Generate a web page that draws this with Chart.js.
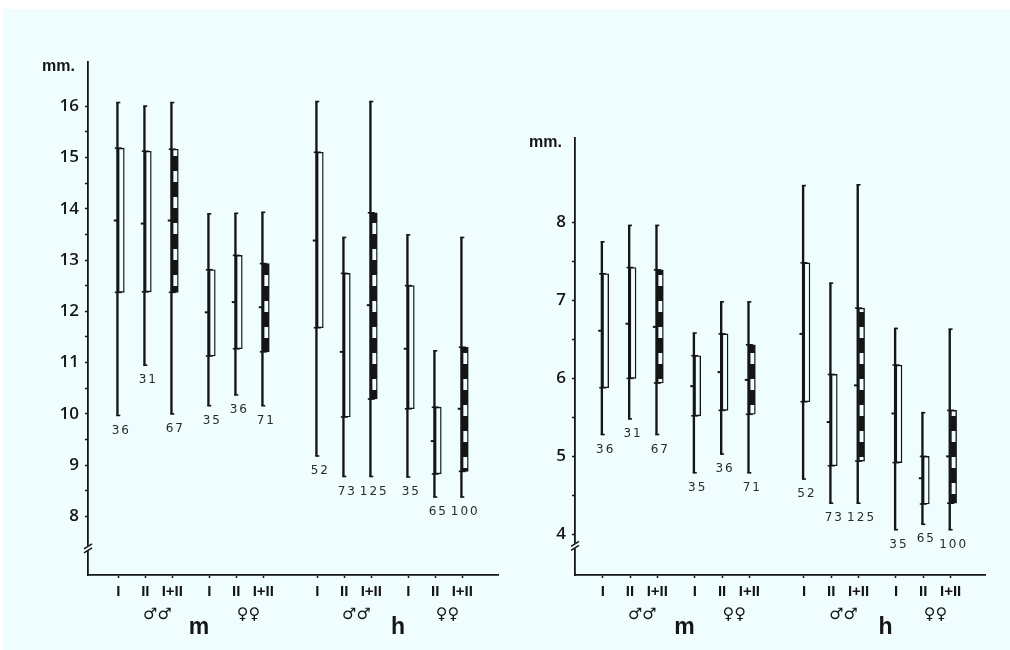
<!DOCTYPE html>
<html>
<head>
<meta charset="utf-8">
<script src="https://cdn.jsdelivr.net/npm/chart.js@4.4.0/dist/chart.umd.min.js"></script>
<style>
html, body { margin: 0; padding: 0; background: #fff; }
#page { position: absolute; left: 3px; top: 9px; width: 1007px; height: 641px; background: #effdff; }
.panel { position: absolute; top: 0; width: 505px; height: 650px; }
</style>
</head>
<body>
<div id="page"></div>
<div class="panel" style="left:0"><canvas id="left"></canvas></div>
<div class="panel" style="left:505px"><canvas id="right"></canvas></div>
<script>
// order of the 12 columns: m ♂♂ I, II, I+II | m ♀♀ I, II, I+II | h ♂♂ ... | h ♀♀ ...
var periods = ['I', 'II', 'I+II'];
var blocks = ['m', 'h'];
var sexes = ['♂♂', '♀♀'];
var counts = [36, 31, 67, 35, 36, 71, 52, 73, 125, 35, 65, 100];

var leftMin = [9.97, 10.95, 10.0, 10.16, 10.37, 10.16, 9.18, 8.78, 8.78, 8.77, 8.38, 8.38];
var leftQ1  = [12.37, 12.38, 12.37, 11.13, 11.27, 11.21, 11.68, 9.94, 10.29, 10.10, 8.83, 8.88];
var leftMed = [13.77, 13.71, 13.77, 11.98, 12.18, 12.08, 13.38, 11.21, 12.12, 11.27, 9.47, 10.10];
var leftQ3  = [15.18, 15.12, 15.16, 12.81, 13.09, 12.93, 15.10, 12.74, 13.92, 12.50, 10.13, 11.30];
var leftMax = [16.07, 16.0, 16.07, 13.90, 13.91, 13.93, 16.09, 13.44, 16.09, 13.49, 11.23, 13.44];
var leftTicks = [8, 9, 10, 11, 12, 13, 14, 15, 16];

var rightMin = [5.28, 5.48, 5.28, 4.79, 5.03, 4.79, 4.71, 4.40, 4.40, 4.06, 4.13, 4.06];
var rightQ1  = [5.88, 6.00, 5.94, 5.52, 5.59, 5.54, 5.70, 4.88, 4.94, 4.92, 4.39, 4.40];
var rightMed = [6.61, 6.70, 6.66, 5.90, 6.08, 5.98, 6.57, 5.44, 5.91, 5.55, 4.72, 5.00];
var rightQ3  = [7.34, 7.42, 7.39, 6.29, 6.57, 6.43, 7.48, 6.05, 6.90, 6.17, 5.00, 5.59];
var rightMax = [7.75, 7.96, 7.96, 6.58, 6.98, 6.98, 8.47, 7.22, 8.48, 6.64, 5.56, 6.63];
var rightTicks = [4, 5, 6, 7, 8];

var ink = '#151515';
var paper = '#effdff';

// column positions on the x scale: 3 periods per sex, gaps between sexes and between m / h
var pos = [];
(function() {
	var x = 0;
	for (var g = 0; g < 4; g++) {
		for (var p = 0; p < 3; p++) pos.push(x + p);
		x += (g % 2 === 0) ? 3.37 : 4.0;
	}
})();

function stripes() {
	var c = document.createElement('canvas');
	c.width = 4; c.height = 26;
	var g = c.getContext('2d');
	g.fillStyle = ink; g.fillRect(0, 0, 4, 26);
	g.fillStyle = paper; g.fillRect(0, 15, 4, 11);
	return g.createPattern(c, 'repeat');
}
var dashFill = stripes();

function pts(vals) {
	return vals.map(function(v, i) { return {x: pos[i], y: v}; });
}
function ranges(lo, hi) {
	return lo.map(function(v, i) { return {x: pos[i], y: [v, hi[i]]}; });
}
function halves(major) {
	var out = [];
	for (var v = major[0]; v <= major[major.length - 1]; v += 0.5) out.push({value: v});
	return out;
}

function makePanel(id, p) {
	var marks = {
		id: 'marks',
		afterDraw: function(chart) {
			var ctx = chart.ctx, xs = chart.scales.x, ys = chart.scales.y, area = chart.chartArea;
			ctx.save();
			// sample sizes under each whisker
			ctx.fillStyle = '#2a2a2a';
			ctx.font = '12px "DejaVu Sans"';
			ctx.textAlign = 'center';
			ctx.textBaseline = 'middle';
			ctx.letterSpacing = '2px';
			for (var i = 0; i < counts.length; i++) {
				ctx.fillText(String(counts[i]), xs.getPixelForValue(pos[i]) + 3, ys.getPixelForValue(p.min[i]) + 15);
			}
			ctx.letterSpacing = '0px';
			// axis unit
			ctx.fillStyle = ink;
			ctx.textAlign = 'left';
			ctx.font = 'bold 16px "Liberation Sans"';
			ctx.fillText('mm.', area.left - 46, area.top + 5);
			// sexes and m / h
			ctx.textAlign = 'center';
			ctx.font = 'bold 16px "DejaVu Sans"';
			for (var s = 0; s < 4; s++) {
				ctx.fillText(sexes[s % 2], xs.getPixelForValue(pos[s * 3 + 1] + 0.45), area.bottom + 40);
			}
			ctx.textBaseline = 'alphabetic';
			ctx.font = 'bold 23px "Liberation Sans"';
			for (var b = 0; b < 2; b++) {
				ctx.fillText(blocks[b], xs.getPixelForValue(pos[b * 6 + 3] - 0.38), area.bottom + 59);
			}
			// axis break
			var by = ys.getPixelForValue(p.brk), bx = area.left;
			ctx.fillStyle = paper;
			ctx.fillRect(bx - 3, by - 2, 6, 5);
			ctx.strokeStyle = ink;
			ctx.lineWidth = 1.5;
			ctx.beginPath();
			ctx.moveTo(bx - 4, by + 1); ctx.lineTo(bx + 4, by - 4);
			ctx.moveTo(bx - 4, by + 5); ctx.lineTo(bx + 4, by);
			ctx.stroke();
			ctx.restore();
		}
	};

	return new Chart(document.getElementById(id), {
		type: 'bar',
		data: {
			datasets: [
				{
					label: 'range',
					stack: 'w',
					data: ranges(p.min, p.max),
					backgroundColor: ink,
					borderWidth: 0,
					barThickness: 1.7
				},
				{
					label: 'box',
					stack: 'b',
					data: ranges(p.q1, p.q3),
					backgroundColor: function(c) { return c.dataIndex % 3 === 2 ? dashFill : paper; },
					borderColor: ink,
					borderWidth: 1.4,
					borderSkipped: false,
					barThickness: 6
				},
				{
					type: 'scatter',
					label: 'median',
					data: pts(p.med),
					pointStyle: 'line',
					pointRadius: 4.5,
					pointBorderWidth: 2,
					borderColor: ink
				},
				{
					type: 'scatter',
					label: 'quartiles',
					data: pts(p.q1).concat(pts(p.q3)),
					pointStyle: 'line',
					pointRadius: 3.5,
					pointBorderWidth: 1.6,
					borderColor: ink
				},
				{
					type: 'scatter',
					label: 'ends',
					data: pts(p.min).concat(pts(p.max)),
					pointStyle: 'line',
					pointRadius: 2,
					pointBorderWidth: 1.6,
					borderColor: ink
				}
			]
		},
		options: {
			responsive: true,
			maintainAspectRatio: false,
			animation: false,
			events: [],
			layout: {padding: {left: 0, right: p.padRight, top: p.padTop, bottom: 0}},
			plugins: {legend: {display: false}, tooltip: {enabled: false}},
			scales: {
				x: {
					type: 'linear',
					offset: false,
					min: p.xMin,
					max: p.xMax,
					afterBuildTicks: function(s) { s.ticks = pos.map(function(v) { return {value: v}; }); },
					afterFit: function(s) { s.height = 75; },
					ticks: {
						autoSkip: false,
						maxRotation: 0,
						padding: 5,
						color: ink,
						font: {family: 'Liberation Sans', size: 15, weight: 'bold'},
						callback: function(v, i) { return periods[i % 3]; }
					},
					grid: {display: true, drawOnChartArea: false, offset: false, tickLength: 3, tickColor: ink, tickWidth: 1.5},
					border: {display: true, color: ink, width: 1.8}
				},
				y: {
					type: 'linear',
					min: p.yMin,
					max: p.yMax,
					afterBuildTicks: function(s) { s.ticks = halves(p.ticks); },
					afterFit: function(s) { s.width = p.axisWidth; },
					ticks: {
						padding: 6,
						color: ink,
						font: {family: 'Open Sans', size: 17, weight: '600'},
						callback: function(v) { return v % 1 === 0 ? v : ''; }
					},
					grid: {display: true, drawOnChartArea: false, tickLength: 3, tickColor: ink, tickWidth: 1.5},
					border: {display: true, color: ink, width: 1.8}
				}
			}
		},
		plugins: [marks]
	});
}

makePanel('left', {
	min: leftMin, q1: leftQ1, med: leftMed, q3: leftQ3, max: leftMax, ticks: leftTicks,
	yMin: 6.86, yMax: 16.86, xMin: -1.122, xMax: 14.063, brk: 7.39,
	axisWidth: 88, padTop: 62, padRight: 7
});
makePanel('right', {
	min: rightMin, q1: rightQ1, med: rightMed, q3: rightQ3, max: rightMax, ticks: rightTicks,
	yMin: 3.48, yMax: 9.08, xMin: -1.015, xMax: 14.0, brk: 3.86,
	axisWidth: 70, padTop: 138, padRight: 25
});
</script>
</body>
</html>
